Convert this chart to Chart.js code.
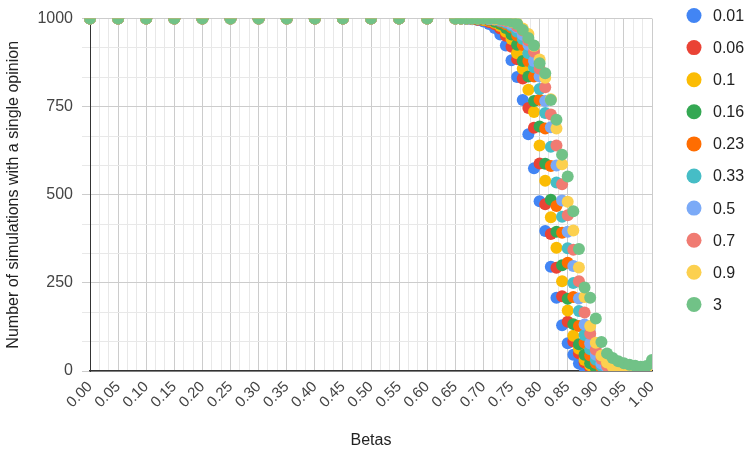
<!DOCTYPE html>
<html>
<head>
<meta charset="utf-8">
<title>Single opinion vs betas</title>
<script src="https://cdn.jsdelivr.net/npm/chart.js@4.4.1/dist/chart.umd.min.js"></script>
<style>
  html, body { margin: 0; padding: 0; background: #fff; }
</style>
</head>
<body>
<canvas id="chart" width="747" height="452"></canvas>
<script>
// x values (betas)
const betas = [0, 0.05, 0.1, 0.15, 0.2, 0.25, 0.3, 0.35, 0.4, 0.45, 0.5, 0.55, 0.6,
  0.65, 0.66, 0.67, 0.68, 0.69, 0.7, 0.71, 0.72, 0.73, 0.74, 0.75, 0.76, 0.77, 0.78, 0.79,
  0.8, 0.81, 0.82, 0.83, 0.84, 0.85, 0.86, 0.87, 0.88, 0.89, 0.9, 0.91, 0.92, 0.93, 0.94,
  0.95, 0.96, 0.97, 0.98, 0.99, 1.0];

const seriesNames = ['0.01', '0.06', '0.1', '0.16', '0.23', '0.33', '0.5', '0.7', '0.9', '3'];
const seriesColors = ['#4285F4', '#EA4335', '#FBBC04', '#34A853', '#FF6D01',
  '#46BDC6', '#7BAAF7', '#F07B72', '#FCD04F', '#71C287'];

// number of simulations with a single opinion, per series
const s001 = [1000, 1000, 1000, 1000, 1000, 1000, 1000, 1000, 1000, 1000, 1000, 1000, 1000,
  1000, 1000, 999, 998, 996, 992, 985, 973, 955, 924, 882, 834, 769, 672, 575, 482, 397, 296,
  208, 130, 79, 46, 21, 8, 3, 1, 0, 0, 0, 0, 0, 0, 0, 0, 0, 0];
const s006 = [1000, 1000, 1000, 1000, 1000, 1000, 1000, 1000, 1000, 1000, 1000, 1000, 1000,
  1000, 1000, 1000, 999, 997, 995, 990, 984, 972, 951, 920, 885, 830, 746, 690, 589, 473, 389,
  293, 212, 140, 84, 50, 24, 10, 4, 1, 0, 0, 0, 0, 0, 0, 0, 0, 0];
const s01 = [1000, 1000, 1000, 1000, 1000, 1000, 1000, 1000, 1000, 1000, 1000, 1000, 1000,
  1000, 1000, 1000, 1000, 998, 996, 994, 988, 979, 963, 942, 902, 858, 798, 735, 640, 540, 436,
  350, 255, 172, 100, 63, 31, 16, 6, 2, 1, 0, 0, 0, 0, 0, 0, 0, 0];
const s016 = [1000, 1000, 1000, 1000, 1000, 1000, 1000, 1000, 1000, 1000, 1000, 1000, 1000,
  1000, 1000, 1000, 1000, 999, 998, 996, 991, 985, 973, 955, 926, 880, 836, 766, 694, 588, 486,
  395, 300, 205, 133, 76, 46, 22, 9, 3, 1, 0, 0, 0, 0, 0, 0, 0, 0];
const s023 = [1000, 1000, 1000, 1000, 1000, 1000, 1000, 1000, 1000, 1000, 1000, 1000, 1000,
  1000, 1000, 1000, 1000, 1000, 999, 997, 996, 991, 984, 975, 952, 925, 880, 836, 770, 688, 582,
  468, 392, 307, 210, 128, 80, 44, 23, 9, 3, 1, 0, 0, 0, 0, 0, 0, 0];
const s033 = [1000, 1000, 1000, 1000, 1000, 1000, 1000, 1000, 1000, 1000, 1000, 1000, 1000,
  1000, 1000, 1000, 1000, 1000, 1000, 998, 997, 993, 988, 980, 963, 942, 902, 862, 800, 732, 636,
  535, 438, 348, 250, 170, 102, 62, 32, 15, 6, 2, 0, 0, 0, 0, 0, 0, 0];
const s05 = [1000, 1000, 1000, 1000, 1000, 1000, 1000, 1000, 1000, 1000, 1000, 1000, 1000,
  1000, 1000, 1000, 1000, 1000, 1000, 999, 998, 995, 992, 984, 975, 954, 926, 880, 836, 766, 692,
  583, 484, 395, 298, 206, 132, 78, 46, 21, 9, 3, 1, 0, 0, 0, 0, 0, 0];
const s07 = [1000, 1000, 1000, 1000, 1000, 1000, 1000, 1000, 1000, 1000, 1000, 1000, 1000,
  1000, 1000, 1000, 1000, 1000, 1000, 1000, 998, 997, 993, 990, 978, 966, 938, 906, 858, 805, 728,
  640, 530, 442, 344, 255, 166, 106, 60, 34, 14, 6, 2, 0, 0, 0, 0, 0, 0];
const s09 = [1000, 1000, 1000, 1000, 1000, 1000, 1000, 1000, 1000, 1000, 1000, 1000, 1000,
  1000, 1000, 1000, 1000, 1000, 1000, 1000, 999, 998, 996, 991, 986, 972, 956, 922, 884, 832, 771,
  688, 587, 480, 399, 294, 210, 128, 80, 44, 24, 12, 8, 6, 5, 4, 3, 2, 1];
const s3 = [1000, 1000, 1000, 1000, 1000, 1000, 1000, 1000, 1000, 1000, 1000, 1000, 1000,
  1000, 1000, 1000, 1000, 1000, 1000, 1000, 1000, 998, 996, 992, 985, 968, 945, 924, 873, 845, 769,
  713, 614, 552, 453, 346, 237, 208, 149, 82, 50, 37, 28, 22, 18, 15, 12, 14, 31];

const seriesValues = [s001, s006, s01, s016, s023, s033, s05, s07, s09, s3];

const FONT = '"Liberation Sans", Arial, sans-serif';

const datasets = seriesValues.map((vals, i) => ({
  label: seriesNames[i],
  data: vals.map((v, k) => ({ x: betas[k], y: v })),
  backgroundColor: seriesColors[i],
  borderWidth: 0,
  pointRadius: 6,
  pointHoverRadius: 6,
  order: seriesValues.length - 1 - i, // later series drawn on top
  clip: { left: 8, top: 0, right: 0, bottom: 0 }
}));

// legend on the right, drawn by hand so it sits where the original puts it
const sideLegend = {
  id: 'sideLegend',
  afterDraw(chart) {
    let ctx = chart.ctx;
    ctx.save();
    ctx.font = '16px ' + FONT;
    ctx.textBaseline = 'middle';
    ctx.textAlign = 'left';
    seriesNames.forEach((name, i) => {
      let y = 15.5 + i * 32.1;
      ctx.fillStyle = seriesColors[i];
      ctx.beginPath();
      ctx.arc(694, y, 7.5, 0, Math.PI * 2);
      ctx.fill();
      ctx.fillStyle = '#222';
      ctx.fillText(name, 713, y + 1);
    });
    ctx.restore();
  }
};

new Chart(document.getElementById('chart'), {
  type: 'scatter',
  data: { datasets: datasets },
  plugins: [sideLegend],
  options: {
    responsive: false,
    devicePixelRatio: 1,
    animation: false,
    layout: { padding: { top: 16, right: 95, bottom: 0, left: 0 } },
    plugins: {
      legend: { display: false },
      tooltip: { enabled: false }
    },
    scales: {
      x: {
        type: 'linear',
        min: 0,
        max: 1,
        afterBuildTicks: (scale) => {
          let t = [];
          for (let k = 0; k <= 60; k++) t.push({ value: k / 60 });
          scale.ticks = t;
        },
        afterFit: (scale) => { scale.height = 81; },
        ticks: {
          autoSkip: false,
          minRotation: 45,
          maxRotation: 45,
          padding: 7,
          color: '#444',
          font: { family: FONT, size: 15 },
          callback: (value, index) => index % 3 === 0 ? value.toFixed(2) : ''
        },
        grid: {
          drawTicks: false,
          color: (c) => c.index % 3 === 0 ? '#cccccc' : '#e8e8e8'
        },
        border: { color: '#333', width: 1.5 },
        title: {
          display: true,
          text: 'Betas',
          color: '#222',
          font: { family: FONT, size: 16 },
          padding: { top: 0, bottom: 2 }
        }
      },
      y: {
        type: 'linear',
        min: 0,
        max: 1000,
        afterBuildTicks: (scale) => {
          let t = [];
          for (let k = 0; k <= 12; k++) t.push({ value: k * 1000 / 12 });
          scale.ticks = t;
        },
        afterFit: (scale) => { scale.width = 90; },
        ticks: {
          autoSkip: false,
          padding: 9,
          color: '#444',
          font: { family: FONT, size: 16 },
          callback: (value, index) => index % 3 === 0 ? String(Math.round(value)) : ''
        },
        grid: {
          drawTicks: true,
          tickLength: 8,
          color: (c) => c.index % 3 === 0 ? '#cccccc' : '#e8e8e8'
        },
        border: { color: '#333', width: 1 },
        title: {
          display: true,
          text: 'Number of simulations with a single opinion',
          color: '#222',
          font: { family: FONT, size: 16 },
          padding: { top: 4, bottom: 0 }
        }
      }
    }
  }
});
</script>
</body>
</html>
